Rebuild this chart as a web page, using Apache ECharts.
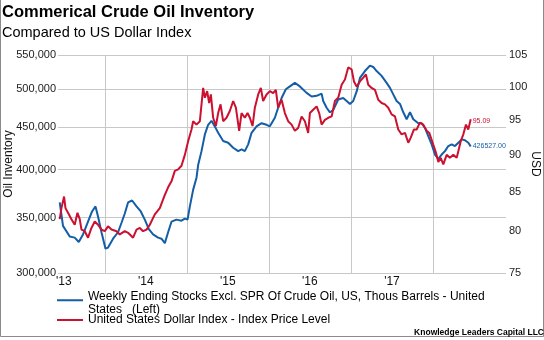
<!DOCTYPE html>
<html>
<head>
<meta charset="utf-8">
<script src="https://cdn.jsdelivr.net/npm/echarts@6/dist/echarts.min.js"></script>
<style>
html,body{margin:0;padding:0;background:#fff;}
#chart{width:544px;height:340px;}
</style>
</head>
<body>
<div id="chart"></div>
<script>
// ---- data ----
var stockName = 'Weekly Ending Stocks Excl. SPR Of Crude Oil, US, Thous Barrels - United\nStates   (Left)';
var dxyName = 'United States Dollar Index - Index Price Level';

var stockDates = [2013.451,2013.491,2013.573,2013.634,2013.683,2013.735,2013.796,2013.845,2013.887,2013.918,2013.960,
 2014.009,2014.040,2014.101,2014.162,2014.204,2014.244,2014.284,2014.333,2014.387,2014.439,2014.488,2014.537,2014.589,2014.650,2014.691,2014.732,2014.772,2014.813,2014.874,2014.935,2014.976,
 2015.009,2015.037,2015.077,2015.118,2015.138,2015.179,2015.220,2015.260,2015.301,2015.341,2015.382,2015.443,2015.504,2015.565,2015.626,2015.667,2015.707,2015.748,2015.789,2015.850,2015.911,2015.972,
 2016.012,2016.073,2016.113,2016.155,2016.207,2016.256,2016.317,2016.378,2016.460,2016.521,2016.582,2016.643,2016.662,2016.704,2016.744,2016.784,2016.845,2016.906,2016.948,2016.988,
 2017.028,2017.070,2017.110,2017.171,2017.232,2017.272,2017.313,2017.374,2017.435,2017.476,2017.516,2017.557,2017.598,2017.638,2017.679,2017.720,2017.760,2017.821,2017.862,2017.902,2017.943,2017.984,
 2018.024,2018.065,2018.106,2018.146,2018.187,2018.228,2018.268,2018.309,2018.350,2018.390,2018.431,2018.460];
var stockValues = [365000,342000,332000,331000,327000,334000,346000,356000,361000,351000,336000,
 321000,322000,330000,336000,345000,354000,365000,367000,361000,356000,348000,339000,334000,331000,330000,326000,336000,346000,348000,347000,349000,
 348000,361000,378000,391000,405000,421000,441000,453000,458000,451000,443000,433000,431000,425000,421000,423000,421000,429000,443000,451000,455000,453000,
 451000,462000,475000,488000,500000,504000,509000,504000,495000,490000,491000,494000,484000,475000,469000,472000,486000,488000,484000,480000,
 484000,497000,516000,526000,534000,532000,526000,519000,509000,502000,493000,484000,480000,469000,460000,469000,460000,455000,455000,449000,439000,429000,
 417000,412000,417000,421000,427000,429000,427000,431000,435000,434000,431000,426527];

var dxyDates = [2013.451,2013.472,2013.504,2013.521,2013.552,2013.594,2013.634,2013.667,2013.695,2013.716,2013.756,2013.796,2013.838,2013.878,2013.918,2013.960,
 2014.000,2014.040,2014.082,2014.143,2014.183,2014.244,2014.284,2014.345,2014.387,2014.427,2014.467,2014.509,2014.549,2014.610,2014.671,2014.732,2014.772,2014.813,2014.854,2014.894,2014.935,2014.976,
 2015.016,2015.057,2015.077,2015.118,2015.159,2015.179,2015.199,2015.220,2015.248,2015.272,2015.293,2015.321,2015.354,2015.382,2015.411,2015.443,2015.484,2015.524,2015.565,2015.598,2015.638,2015.667,2015.707,2015.740,2015.768,2015.801,2015.829,2015.870,2015.902,2015.930,2015.972,
 2016.012,2016.052,2016.085,2016.113,2016.155,2016.195,2016.235,2016.277,2016.317,2016.357,2016.399,2016.439,2016.479,2016.500,2016.540,2016.582,2016.613,2016.643,2016.683,2016.723,2016.765,2016.805,2016.845,2016.887,2016.927,2016.967,
 2017.009,2017.037,2017.070,2017.110,2017.150,2017.183,2017.211,2017.252,2017.293,2017.333,2017.374,2017.415,2017.455,2017.496,2017.537,2017.577,2017.618,2017.659,2017.699,2017.728,2017.768,2017.801,2017.841,2017.882,2017.923,2017.955,2017.996,
 2018.037,2018.065,2018.094,2018.126,2018.167,2018.207,2018.248,2018.289,2018.309,2018.338,2018.370,2018.402,2018.430,2018.460];
var dxyValues = [81.5,82.9,84.4,82.9,82.3,81.5,80.8,82.3,81.5,80.2,80.0,79.2,80.4,81.2,80.8,80.2,
 80.0,80.6,80.2,80.0,79.6,80.0,79.8,79.2,80.2,80.4,80.0,80.2,80.8,82.1,82.9,84.6,85.6,86.4,87.8,88.0,88.5,90.0,
 91.9,93.6,94.8,94.3,94.8,97.3,99.8,98.3,99.3,97.5,98.8,95.3,94.1,96.0,97.3,94.8,95.3,96.3,97.8,96.8,93.4,96.0,95.3,96.0,95.3,94.1,96.8,98.8,99.8,97.8,98.8,
 99.3,99.0,99.5,96.8,98.0,96.0,94.8,94.3,93.4,93.8,95.5,94.8,93.1,96.0,96.5,97.0,96.0,94.3,95.0,95.3,95.5,97.8,98.3,100.3,101.1,103.0,
 102.7,100.8,100.0,100.8,101.4,101.9,100.3,99.8,99.5,98.0,97.5,97.3,96.8,95.8,95.5,93.6,92.9,93.1,91.7,92.4,93.6,93.6,94.6,94.3,93.4,93.1,91.7,
 90.3,89.0,89.6,88.7,90.0,89.6,90.0,89.6,90.5,91.9,92.9,94.3,93.6,95.09];

var yearStarts = [2014, 2015, 2016, 2017, 2018];
var yearMids = [2013.5, 2014.5, 2015.5, 2016.5, 2017.5];
var yearLabels = ["'13", "'14", "'15", "'16", "'17"];
var leftTicks = [300000, 350000, 400000, 450000, 500000, 550000];
var rightTicks = [75, 80, 85, 90, 95, 100, 105];

// ---- chart ----
var FONT = '"Liberation Sans", Arial, sans-serif';
var BLUE = '#135ea6';
var RED = '#cc1030';
var GRID = '#c8c8c8';

function zip(a, b) { return a.map(function (v, i) { return [v, b[i]]; }); }

var chart = echarts.init(document.getElementById('chart'), null, {renderer: 'canvas'});
chart.setOption({
  animation: false,
  backgroundColor: '#fff',
  textStyle: {fontFamily: FONT},
  title: [{
    text: 'Commerical Crude Oil Inventory',
    subtext: 'Compared to US Dollar Index',
    left: 2, top: 4, padding: 0, itemGap: 4,
    textStyle: {fontFamily: FONT, fontSize: 16.5, fontWeight: 'bold', color: '#000'},
    subtextStyle: {fontFamily: FONT, fontSize: 14.5, color: '#000'}
  }, {
    text: 'Knowledge Leaders Capital LLC',
    right: 0, bottom: 3, padding: 0,
    textStyle: {fontFamily: FONT, fontSize: 8.5, fontWeight: 'bold', color: '#000'}
  }],
  legend: [{
    data: [stockName],
    left: 57, top: 278, padding: 0, itemGap: 0,
    itemWidth: 26, itemHeight: 12,
    icon: 'path://M0,0L26,0L26,0.01L0,0.01Z M0,7L26,7L26,9L0,9Z',
    formatter: function (n) { return ' \n' + n; },
    textStyle: {fontFamily: FONT, fontSize: 12, lineHeight: 12.5, color: '#000'}
  }, {
    data: [dxyName],
    left: 57, top: 314, padding: 0,
    itemWidth: 26, itemHeight: 12,
    icon: 'path://M0,0L26,0L26,2L0,2Z',
    textStyle: {fontFamily: FONT, fontSize: 12, lineHeight: 11, color: '#000'}
  }],
  grid: {left: 58, right: 38, top: 55, bottom: 67, containLabel: false, outerBoundsMode: 'none'},
  xAxis: {
    type: 'value', min: 2013.43, max: 2018.89,
    axisLine: {show: false},
    axisTick: {show: false, customValues: yearStarts},
    splitLine: {show: true, lineStyle: {color: GRID, width: 1}},
    axisLabel: {
      customValues: yearMids, margin: 3,
      fontFamily: FONT, fontSize: 12, color: '#111',
      formatter: function (v) { return yearLabels[yearMids.indexOf(v)]; }
    }
  },
  yAxis: [{
    type: 'log', min: 300000, max: 550000, logBase: 10,
    name: 'Oil Inventory', nameLocation: 'middle', nameRotate: 90, nameGap: 43,
    nameMoveOverlap: false,
    nameTextStyle: {fontFamily: FONT, fontSize: 12, color: '#111'},
    axisLine: {show: false},
    axisTick: {show: false, customValues: leftTicks},
    splitLine: {show: false},
    axisLabel: {
      customValues: leftTicks, margin: 2,
      fontFamily: FONT, fontSize: 11, color: '#222',
      formatter: function (v) { return Math.round(v).toLocaleString('en-US'); }
    }
  }, {
    type: 'log', min: 75, max: 105, logBase: 10, position: 'right',
    name: 'USD', nameLocation: 'middle', nameRotate: -90, nameGap: 23,
    nameMoveOverlap: false,
    nameTextStyle: {fontFamily: FONT, fontSize: 12, color: '#111'},
    axisLine: {show: false},
    axisTick: {show: false, customValues: rightTicks},
    splitLine: {show: false},
    axisLabel: {
      customValues: rightTicks, margin: 3,
      fontFamily: FONT, fontSize: 11, color: '#222',
      formatter: function (v) { return String(Math.round(v)); }
    }
  }],
  series: [{
    name: stockName, type: 'line', yAxisIndex: 0,
    data: zip(stockDates, stockValues),
    symbol: 'none', lineStyle: {color: BLUE, width: 2}, itemStyle: {color: BLUE},
    z: 3,
    endLabel: {show: true, distance: 2, fontFamily: FONT, fontSize: 7, color: BLUE,
      formatter: function (p) { return p.value[1].toFixed(2); }},
    markLine: {
      silent: true, z: 1, symbol: ['none', 'none'], animation: false,
      label: {show: false},
      lineStyle: {type: 'solid', color: GRID, width: 1},
      emphasis: {disabled: true},
      data: leftTicks.map(function (v) { return {yAxis: v}; })
    }
  }, {
    name: dxyName, type: 'line', yAxisIndex: 1,
    data: zip(dxyDates, dxyValues),
    symbol: 'none', lineStyle: {color: RED, width: 2}, itemStyle: {color: RED},
    z: 4,
    endLabel: {show: true, distance: 2, offset: [0, 2], fontFamily: FONT, fontSize: 7, color: RED,
      formatter: function (p) { return p.value[1].toFixed(2); }}
  }],
  graphic: [{
    type: 'polyline', silent: true,
    shape: {points: [[0.5, 0], [0.5, 336.5], [543.5, 336.5], [543.5, 0]]},
    style: {stroke: '#8a8a8a', fill: null, lineWidth: 1}
  }]
});
</script>
</body>
</html>
